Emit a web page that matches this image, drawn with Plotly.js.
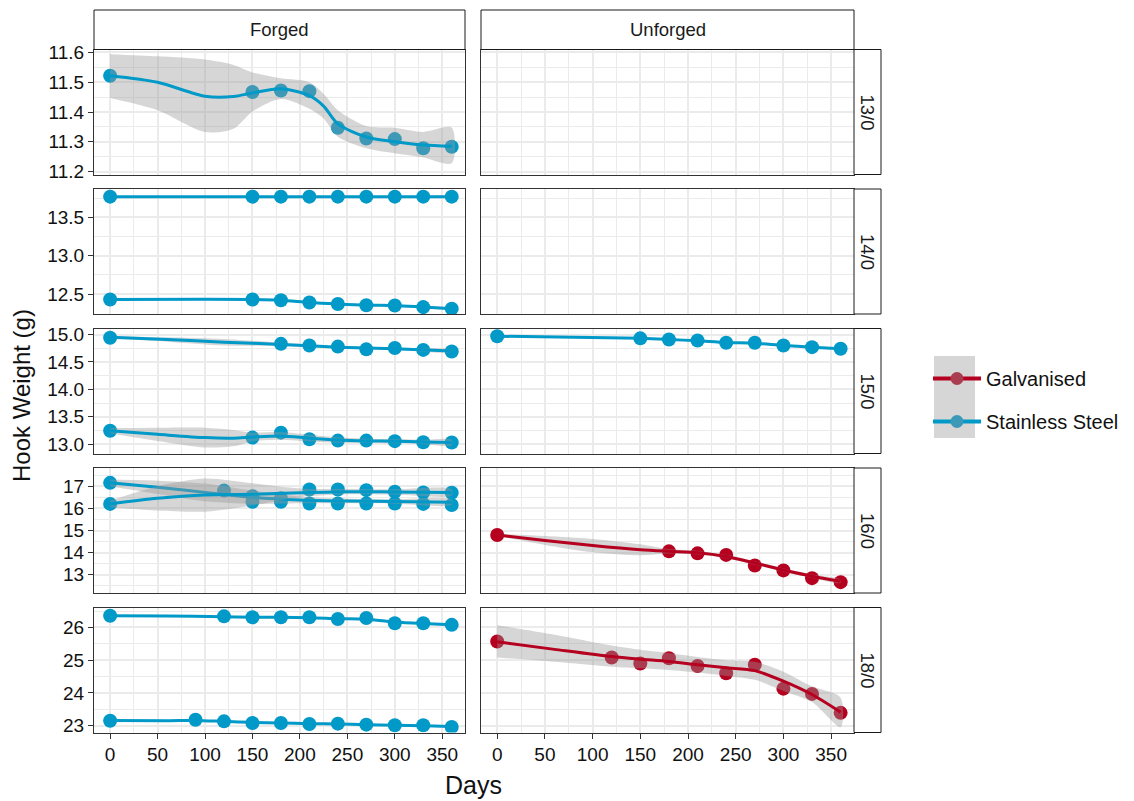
<!DOCTYPE html>
<html><head><meta charset="utf-8">
<script src="https://cdn.plot.ly/plotly-3.0.1.min.js"></script>
<style>html,body{margin:0;padding:0;background:#fff}#chart{width:1134px;height:801px}</style>
</head><body><div id="chart"></div>
<script>
// ---------------- DATA ----------------
const colTypes = ['Forged', 'Unforged'];
const rowSizes = ['13/0', '14/0', '15/0', '16/0', '18/0'];
const seriesNames = ['Galvanised', 'Stainless Steel'];
const xTicks = [0, 50, 100, 150, 200, 250, 300, 350];

// 13/0 Forged, Stainless Steel
const f13Days = [0, 150, 180, 210, 240, 270, 300, 330, 360];
const f13W = [11.522, 11.467, 11.472, 11.47, 11.347, 11.311, 11.309, 11.278, 11.283];
const f13FitDays = [0, 50, 100, 130, 150, 180, 210, 225, 240, 270, 300, 330, 360];
const f13Fit = [11.522, 11.50, 11.453, 11.452, 11.464, 11.478, 11.455, 11.42, 11.36, 11.316, 11.30, 11.289, 11.285];
const f13Hi = [11.594, 11.587, 11.576, 11.558, 11.533, 11.513, 11.50, 11.461, 11.406, 11.353, 11.347, 11.333, 11.347];
const f13Lo = [11.447, 11.406, 11.333, 11.344, 11.402, 11.444, 11.411, 11.378, 11.317, 11.278, 11.261, 11.247, 11.228];

// 14/0 Forged, Stainless Steel (two hooks)
const f14Days = [0, 150, 180, 210, 240, 270, 300, 330, 360];
const f14aW = [13.77, 13.77, 13.77, 13.77, 13.77, 13.77, 13.77, 13.77, 13.77];
const f14aFit = [13.77, 13.77, 13.77, 13.77, 13.77, 13.77, 13.77, 13.77, 13.77];
const f14aSe = [0.01, 0.01, 0.01, 0.01, 0.01, 0.01, 0.01, 0.01, 0.01];
const f14bW = [12.43, 12.43, 12.42, 12.39, 12.37, 12.355, 12.35, 12.33, 12.31];
const f14bFit = [12.43, 12.43, 12.42, 12.39, 12.37, 12.355, 12.35, 12.33, 12.31];
const f14bSe = [0.01, 0.01, 0.01, 0.01, 0.01, 0.01, 0.01, 0.01, 0.01];

// 15/0 Forged, Stainless Steel (two hooks)
const f15aDays = [0, 180, 210, 240, 270, 300, 330, 360];
const f15aW = [14.94, 14.83, 14.80, 14.78, 14.73, 14.755, 14.72, 14.69];
const f15aFitDays = [0, 60, 120, 180, 240, 300, 360];
const f15aFit = [14.95, 14.91, 14.86, 14.82, 14.77, 14.74, 14.70];
const f15aSe = [0.02, 0.04, 0.06, 0.03, 0.02, 0.02, 0.02];
const f15bDays = [0, 150, 180, 210, 240, 270, 300, 330, 360];
const f15bW = [13.245, 13.12, 13.21, 13.09, 13.065, 13.065, 13.055, 13.035, 13.03];
const f15bFitDays = [0, 50, 100, 130, 150, 180, 210, 240, 270, 300, 330, 360];
const f15bFit = [13.245, 13.18, 13.12, 13.11, 13.13, 13.15, 13.11, 13.075, 13.06, 13.055, 13.04, 13.03];
const f15bSe = [0.05, 0.12, 0.18, 0.15, 0.08, 0.07, 0.06, 0.05, 0.04, 0.04, 0.04, 0.05];

// 15/0 Unforged, Stainless Steel
const u15Days = [0, 150, 180, 210, 240, 270, 300, 330, 360];
const u15W = [14.97, 14.93, 14.91, 14.89, 14.85, 14.85, 14.80, 14.77, 14.74];
const u15Fit = [14.97, 14.93, 14.91, 14.885, 14.855, 14.84, 14.80, 14.77, 14.74];
const u15Se = [0.01, 0.01, 0.01, 0.01, 0.01, 0.01, 0.01, 0.01, 0.01];

// 16/0 Forged, Stainless Steel (two hooks)
const f16aDays = [0, 150, 180, 210, 240, 270, 300, 330, 360];
const f16aW = [17.15, 16.3, 16.3, 16.22, 16.22, 16.22, 16.22, 16.2, 16.15];
const f16aFitDays = [0, 50, 100, 150, 200, 250, 300, 360];
const f16aFit = [17.15, 16.95, 16.72, 16.5, 16.38, 16.33, 16.31, 16.28];
const f16aSe = [0.15, 0.3, 0.4, 0.3, 0.15, 0.1, 0.1, 0.12];
const f16bDays = [0, 120, 150, 180, 210, 240, 270, 300, 330, 360];
const f16bW = [16.2, 16.8, 16.55, 16.45, 16.85, 16.85, 16.82, 16.75, 16.72, 16.7];
const f16bFitDays = [0, 50, 100, 150, 200, 250, 300, 360];
const f16bFit = [16.2, 16.45, 16.6, 16.63, 16.7, 16.75, 16.74, 16.72];
const f16bSe = [0.15, 0.55, 0.75, 0.5, 0.2, 0.12, 0.12, 0.14];

// 16/0 Unforged, Galvanised
const u16Days = [0, 180, 210, 240, 270, 300, 330, 360];
const u16W = [14.8, 14.06, 13.97, 13.9, 13.42, 13.2, 12.85, 12.67];
const u16FitDays = [0, 50, 100, 150, 180, 210, 240, 270, 300, 330, 360];
const u16Fit = [14.8, 14.55, 14.32, 14.13, 14.06, 14.0, 13.83, 13.53, 13.22, 12.94, 12.71];
const u16Se = [0.05, 0.2, 0.3, 0.25, 0.1, 0.08, 0.08, 0.08, 0.08, 0.08, 0.08];

// 18/0 Forged, Stainless Steel (two hooks)
const f18aDays = [0, 120, 150, 180, 210, 240, 270, 300, 330, 360];
const f18aW = [26.36, 26.34, 26.31, 26.31, 26.31, 26.26, 26.29, 26.13, 26.13, 26.08];
const f18aFitDays = [0, 60, 120, 150, 180, 210, 240, 270, 300, 330, 360];
const f18aFit = [26.36, 26.35, 26.33, 26.31, 26.31, 26.30, 26.27, 26.25, 26.17, 26.12, 26.08];
const f18aSe = [0.02, 0.02, 0.02, 0.02, 0.02, 0.02, 0.02, 0.02, 0.02, 0.02, 0.02];
const f18bDays = [0, 90, 120, 150, 180, 210, 240, 270, 300, 330, 360];
const f18bW = [23.15, 23.18, 23.13, 23.08, 23.08, 23.05, 23.06, 23.03, 23.01, 23.01, 22.96];
const f18bFitDays = [0, 60, 90, 120, 150, 180, 210, 240, 270, 300, 330, 360];
const f18bFit = [23.16, 23.15, 23.16, 23.13, 23.10, 23.08, 23.06, 23.05, 23.03, 23.01, 23.0, 22.97];
const f18bSe = [0.02, 0.02, 0.02, 0.02, 0.02, 0.02, 0.02, 0.02, 0.02, 0.02, 0.02, 0.02];

// 18/0 Unforged, Galvanised
const u18Days = [0, 120, 150, 180, 210, 240, 270, 300, 330, 360];
const u18W = [25.57, 25.08, 24.9, 25.06, 24.82, 24.6, 24.86, 24.13, 23.97, 23.39];
const u18FitDays = [0, 60, 120, 150, 180, 210, 240, 270, 300, 330, 360];
const u18Fit = [25.56, 25.33, 25.11, 25.03, 24.96, 24.86, 24.77, 24.68, 24.36, 23.95, 23.41];
const u18Hi = [26.07, 25.78, 25.45, 25.32, 25.22, 25.10, 25.0, 24.95, 24.65, 24.2, 23.85];
const u18Lo = [25.08, 24.95, 24.8, 24.75, 24.7, 24.62, 24.52, 24.4, 24.06, 23.72, 22.95];

// y axis settings per row
const rowRanges = [[11.19, 11.61], [12.24, 13.87], [12.83, 15.11], [12.18, 17.82], [22.79, 26.61]];
const rowDticks = [0.1, 0.5, 0.5, 1, 1];
const rowFormats = ['.1f', '.1f', '.1f', 'd', 'd'];

// ---------------- STYLE ----------------
const W = 1134, H = 801;
const colBlue = '#0099C8', colRed = '#B5001F';
const mutedBlue = 'rgb(61,153,184)', mutedRed = 'rgb(170,61,80)';
const ribbonFill = 'rgba(153,153,153,0.4)';
const colPx = [[94, 465], [481, 854]];
const rowTops = [49.5, 189, 328.5, 468, 607.5];
const rowH = 125;
const px = x => x / W, py = y => 1 - y / H;

const baseTraces = [], pointTraces = [], smoothTraces = [];
function axId(r, c) { const i = r * 2 + c + 1; return i === 1 ? '' : String(i); }
// empty trace per panel so that every panel (also empty ones) is drawn
for (let r = 0; r < 5; r++) for (let c = 0; c < 2; c++) {
  const id = axId(r, c);
  baseTraces.push({type: 'scatter', mode: 'markers', x: [null], y: [null], xaxis: 'x' + id, yaxis: 'y' + id,
    showlegend: false, hoverinfo: 'skip'});
}
function addPoints(r, c, days, w, color) {
  const id = axId(r, c);
  pointTraces.push({type: 'scatter', mode: 'markers', x: days, y: w, xaxis: 'x' + id, yaxis: 'y' + id,
    marker: {color: color, size: 14, line: {width: 0}}, showlegend: false, hoverinfo: 'x+y'});
}
function addSmooth(r, c, days, fit, lo, hi, color) {
  const id = axId(r, c);
  smoothTraces.push({type: 'scatter', mode: 'lines', x: days.concat(days.slice().reverse()),
    y: hi.concat(lo.slice().reverse()), fill: 'toself', fillcolor: ribbonFill,
    line: {width: 0, shape: 'spline', smoothing: 0.8}, xaxis: 'x' + id, yaxis: 'y' + id,
    showlegend: false, hoverinfo: 'skip'});
  smoothTraces.push({type: 'scatter', mode: 'lines', x: days, y: fit, xaxis: 'x' + id, yaxis: 'y' + id,
    line: {color: color, width: 3, shape: 'spline', smoothing: 0.8}, showlegend: false, hoverinfo: 'skip'});
}
const plus = (a, s) => a.map((v, i) => v + s[i]);
const minus = (a, s) => a.map((v, i) => v - s[i]);

// 13/0
addPoints(0, 0, f13Days, f13W, colBlue);
addSmooth(0, 0, f13FitDays, f13Fit, f13Lo, f13Hi, colBlue);
// 14/0
addPoints(1, 0, f14Days, f14aW, colBlue);
addPoints(1, 0, f14Days, f14bW, colBlue);
addSmooth(1, 0, f14Days, f14aFit, minus(f14aFit, f14aSe), plus(f14aFit, f14aSe), colBlue);
addSmooth(1, 0, f14Days, f14bFit, minus(f14bFit, f14bSe), plus(f14bFit, f14bSe), colBlue);
// 15/0
addPoints(2, 0, f15aDays, f15aW, colBlue);
addPoints(2, 0, f15bDays, f15bW, colBlue);
addSmooth(2, 0, f15aFitDays, f15aFit, minus(f15aFit, f15aSe), plus(f15aFit, f15aSe), colBlue);
addSmooth(2, 0, f15bFitDays, f15bFit, minus(f15bFit, f15bSe), plus(f15bFit, f15bSe), colBlue);
addPoints(2, 1, u15Days, u15W, colBlue);
addSmooth(2, 1, u15Days, u15Fit, minus(u15Fit, u15Se), plus(u15Fit, u15Se), colBlue);
// 16/0
addPoints(3, 0, f16aDays, f16aW, colBlue);
addPoints(3, 0, f16bDays, f16bW, colBlue);
addSmooth(3, 0, f16aFitDays, f16aFit, minus(f16aFit, f16aSe), plus(f16aFit, f16aSe), colBlue);
addSmooth(3, 0, f16bFitDays, f16bFit, minus(f16bFit, f16bSe), plus(f16bFit, f16bSe), colBlue);
addPoints(3, 1, u16Days, u16W, colRed);
addSmooth(3, 1, u16FitDays, u16Fit, minus(u16Fit, u16Se), plus(u16Fit, u16Se), colRed);
// 18/0
addPoints(4, 0, f18aDays, f18aW, colBlue);
addPoints(4, 0, f18bDays, f18bW, colBlue);
addSmooth(4, 0, f18aFitDays, f18aFit, minus(f18aFit, f18aSe), plus(f18aFit, f18aSe), colBlue);
addSmooth(4, 0, f18bFitDays, f18bFit, minus(f18bFit, f18bSe), plus(f18bFit, f18bSe), colBlue);
addPoints(4, 1, u18Days, u18W, colRed);
addSmooth(4, 1, u18FitDays, u18Fit, u18Lo, u18Hi, colRed);

// legend-only traces
const legendTraces = [
  {type: 'scatter', mode: 'lines+markers', x: [null], y: [null], name: seriesNames[0], legendgroup: 'g',
   line: {color: colRed, width: 4}, marker: {color: mutedRed, size: 13}},
  {type: 'scatter', mode: 'lines+markers', x: [null], y: [null], name: seriesNames[1], legendgroup: 's',
   line: {color: colBlue, width: 4}, marker: {color: mutedBlue, size: 13}}
];

const tickFont = {family: 'Liberation Sans, Arial, sans-serif', size: 19, color: '#111'};
const layout = {
  width: W, height: H, autosize: false,
  margin: {l: 0, r: 0, t: 0, b: 0},
  paper_bgcolor: '#fff', plot_bgcolor: '#fff',
  font: {family: 'Liberation Sans, Arial, sans-serif', color: '#111'},
  showlegend: true,
  legend: {x: px(928), y: py(400), xanchor: 'left', yanchor: 'middle', bgcolor: 'rgba(0,0,0,0)',
    font: {size: 20, color: '#111'}, traceorder: 'grouped', tracegroupgap: 14, itemwidth: 48},
  shapes: [], annotations: []
};

for (let r = 0; r < 5; r++) {
  for (let c = 0; c < 2; c++) {
    const id = axId(r, c);
    const bottom = r === 4, left = c === 0;
    layout['xaxis' + id] = {
      domain: [px(colPx[c][0]), px(colPx[c][1])], anchor: 'y' + id, range: [-17, 374],
      tickmode: 'array', tickvals: xTicks, showticklabels: bottom, ticks: bottom ? 'outside' : '',
      ticklen: 5, tickcolor: '#333', tickwidth: 1, tickfont: tickFont,
      showgrid: true, gridcolor: '#EBEBEB', gridwidth: 2, zeroline: false,
      minor: {dtick: 25, tick0: 0, showgrid: true, gridcolor: '#EBEBEB', gridwidth: 1},
      showline: true, mirror: true, linecolor: '#333', linewidth: 1
    };
    layout['yaxis' + id] = {
      domain: [py(rowTops[r] + rowH), py(rowTops[r])], anchor: 'x' + id, range: rowRanges[r],
      dtick: rowDticks[r], tick0: 0, tickformat: rowFormats[r], showticklabels: left,
      ticks: left ? 'outside' : '', ticklen: 5, tickcolor: '#333', tickwidth: 1, tickfont: tickFont,
      showgrid: true, gridcolor: '#EBEBEB', gridwidth: 2, zeroline: false,
      minor: {dtick: rowDticks[r] / 2, tick0: 0, showgrid: true, gridcolor: '#EBEBEB', gridwidth: 1},
      showline: true, mirror: true, linecolor: '#333', linewidth: 1
    };
  }
}

// strips
for (let c = 0; c < 2; c++) {
  layout.shapes.push({type: 'rect', xref: 'paper', yref: 'paper', x0: px(colPx[c][0]), x1: px(colPx[c][1]),
    y0: py(rowTops[0]), y1: py(10), fillcolor: '#fff', line: {color: '#1a1a1a', width: 1}});
  layout.annotations.push({xref: 'paper', yref: 'paper', x: px((colPx[c][0] + colPx[c][1]) / 2),
    y: py((rowTops[0] + 10) / 2), text: colTypes[c], showarrow: false,
    font: {size: 18.5, color: '#1a1a1a'}, xanchor: 'center', yanchor: 'middle'});
}
for (let r = 0; r < 5; r++) {
  layout.shapes.push({type: 'rect', xref: 'paper', yref: 'paper', x0: px(854), x1: px(881),
    y0: py(rowTops[r] + rowH), y1: py(rowTops[r]), fillcolor: '#fff', line: {color: '#1a1a1a', width: 1}});
  layout.annotations.push({xref: 'paper', yref: 'paper', x: px(867.5), y: py(rowTops[r] + rowH / 2),
    text: rowSizes[r], showarrow: false, textangle: 90, font: {size: 18.5, color: '#1a1a1a'},
    xanchor: 'center', yanchor: 'middle'});
}
// legend key background
layout.shapes.push({type: 'rect', xref: 'paper', yref: 'paper', x0: px(934), x1: px(975),
  y0: py(438), y1: py(356), fillcolor: '#D6D6D6', line: {width: 0}, layer: 'below'});

// axis titles
layout.annotations.push({xref: 'paper', yref: 'paper', x: px(473), y: py(785), text: 'Days',
  showarrow: false, font: {size: 25, color: '#111'}, xanchor: 'center', yanchor: 'middle'});
layout.annotations.push({xref: 'paper', yref: 'paper', x: px(21), y: py(396), text: 'Hook Weight (g)',
  showarrow: false, textangle: -90, font: {size: 24, color: '#111'}, xanchor: 'center', yanchor: 'middle'});

Plotly.newPlot('chart', baseTraces.concat(pointTraces, smoothTraces, legendTraces), layout, {displayModeBar: false, staticPlot: true});
</script></body></html>
